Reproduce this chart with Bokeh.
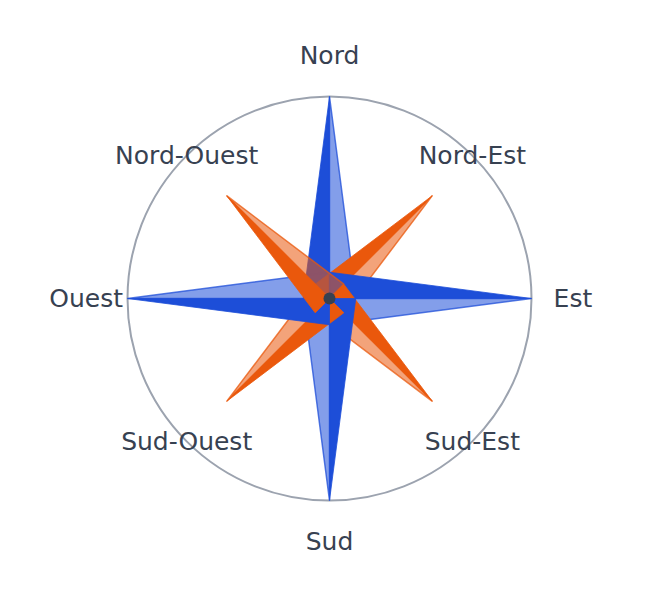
import numpy as np
from bokeh.plotting import figure
from bokeh.models import Range1d, ColumnDataSource
from bokeh.core.properties import value
from bokeh.embed import file_html
from bokeh.resources import INLINE

# ---- data ----
directions = ["Nord", "Nord-Est", "Est", "Sud-Est", "Sud", "Sud-Ouest", "Ouest", "Nord-Ouest"]
bearings = [0, 45, 90, 135, 180, 225, 270, 315]          # compass degrees
arm_length = [1.0, 0.72, 1.0, 0.72, 1.0, 0.72, 1.0, 0.72]  # relative to outer circle
arm_width = [0.13, 0.10, 0.13, 0.10, 0.13, 0.10, 0.13, 0.10]
arm_series = ["cardinal", "intercardinal"] * 4
label_radius = [1.205, 1.0, 1.205, 1.0, 1.205, 1.0, 1.205, 1.0]

# ---- style ----
R = 202.0
colors = {"cardinal": "#1d4ed8", "intercardinal": "#ea580c"}
W, H = 641, 581
cx, cy = 329, 298

p = figure(width=W, height=H, output_backend="svg", toolbar_location=None,
           x_range=Range1d(-cx, W - cx), y_range=Range1d(-(H - cy), cy),
           min_border=0, background_fill_color="white", border_fill_color="white")
p.axis.visible = False
p.grid.visible = False
p.outline_line_color = None


def pt(r, b):
    a = np.deg2rad(b)
    return r * R * np.sin(a), r * R * np.cos(a)

# outer circle
p.circle(x=[0], y=[0], radius=R, fill_color=None, line_color="#9ca3af", line_width=2)

for d, b, L, w, s in zip(directions, bearings, arm_length, arm_width, arm_series):
    c = colors[s]
    tx, ty = pt(L, b)
    dx, dy = pt(w, b - 90)
    lx, ly = pt(w, b + 90)
    # dark half (counter-clockwise side)
    p.patch(x=[tx, 0, dx], y=[ty, 0, dy], fill_color=c, fill_alpha=1.0,
            line_color=c, line_width=0.8, line_alpha=1.0)
    # light half (clockwise side)
    p.patch(x=[tx, 0, lx], y=[ty, 0, ly], fill_color=c, fill_alpha=0.55,
            line_color=c, line_width=1.5, line_alpha=0.75)

# center dot
p.circle(x=[0], y=[0], radius=6, fill_color="#374151", line_color=None)

# labels
lx = [pt(r, b)[0] for r, b in zip(label_radius, bearings)]
ly = [pt(r, b)[1] for r, b in zip(label_radius, bearings)]
src = ColumnDataSource(dict(x=lx, y=ly, t=directions))
p.text(x="x", y="y", text="t", source=src, text_align="center", text_baseline="middle",
       text_font=value("DejaVu Sans"), text_font_size="25px", text_color="#374151")

open("out.html", "w").write(file_html(p, INLINE))
